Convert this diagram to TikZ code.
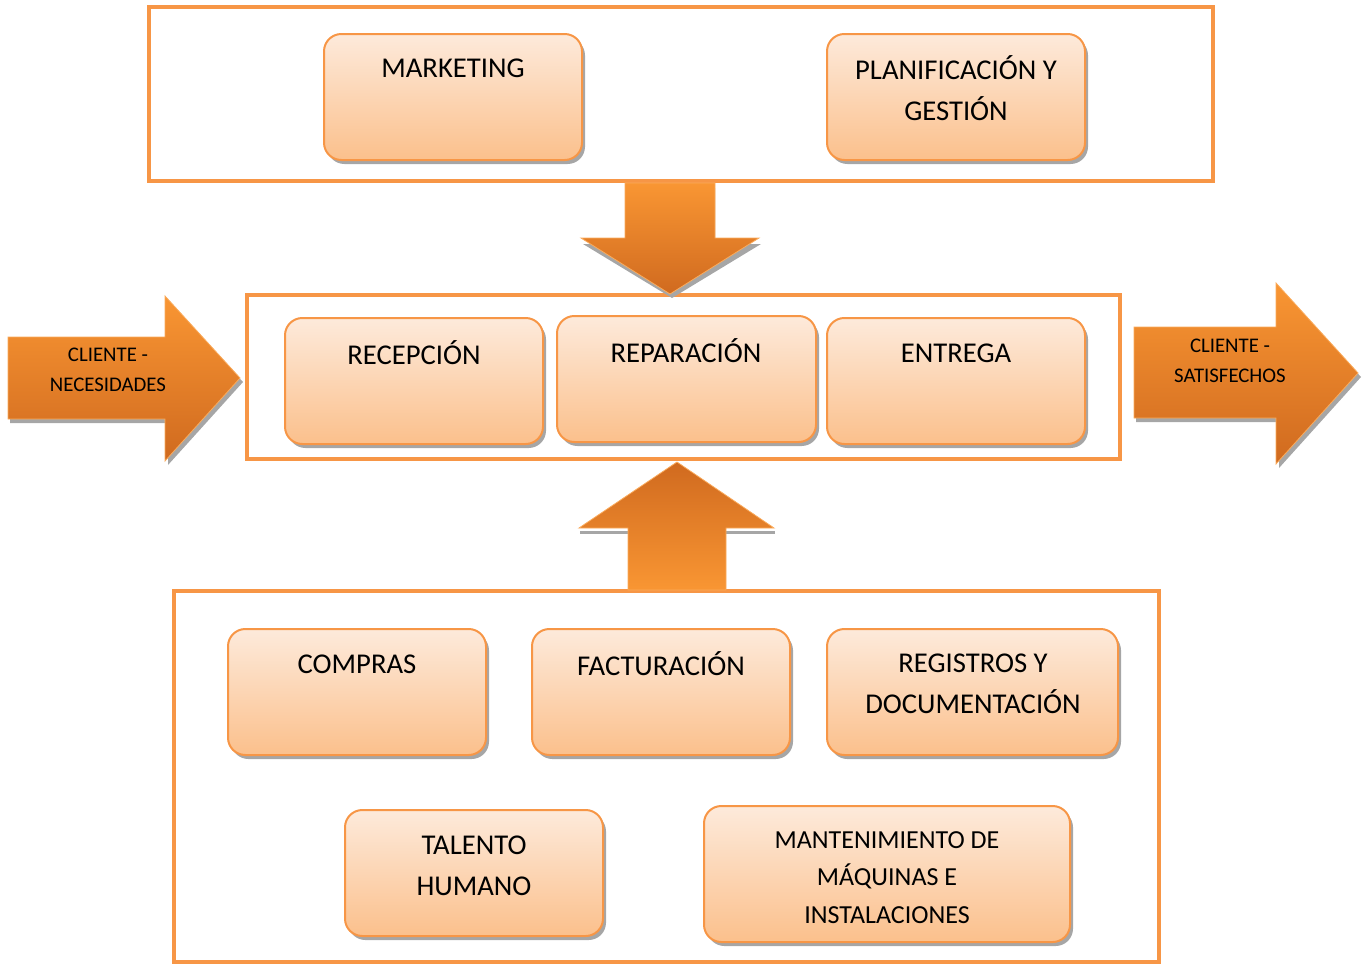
\documentclass[tikz,border=0pt]{standalone}
\usepackage{fontspec}
\setmainfont{Carlito}
\definecolor{obord}{HTML}{F79646}
\definecolor{btop}{HTML}{FDEADB}
\definecolor{bbot}{HTML}{FBC08C}
\definecolor{abright}{HTML}{F99633}
\definecolor{adark}{HTML}{D06A1F}
\definecolor{shgray}{HTML}{A6A6A6}
\tikzset{
  cont/.style={draw=obord, line width=3pt, inner sep=0pt, outer sep=0pt},
  box/.style={draw=obord, line width=1.5pt, rounded corners=13pt, top color=btop, bottom color=bbot, inner sep=0pt, outer sep=0pt},
  boxshadow/.style={fill=shgray, rounded corners=13pt},
  btxt/.style={font=\fontsize{21.5}{30.75}\selectfont, align=center, inner sep=0pt},
  atxt/.style={font=\fontsize{15.6}{22.5}\selectfont, align=center, inner sep=0pt},
  mtxt/.style={font=\fontsize{19.5}{28}\selectfont, align=center, inner sep=0pt},
  arrowfill/.style={top color=abright, bottom color=adark, draw=abright!80!white, line width=0.6pt},
  arrowfillup/.style={top color=adark, bottom color=abright, draw=abright!80!white, line width=0.6pt},
  ashadow/.style={fill=shgray},
}
\newcommand\rbox[5]{%
  \fill[boxshadow] (#2+3,#3+4) rectangle (#4+3,#5+4);
  \node[box, anchor=north west, minimum width={(#4-#2)*0.75pt}, minimum height={(#5-#3)*0.75pt}] (#1) at (#2,#3) {};
}
\begin{document}
\begin{tikzpicture}[x=0.75pt, y=-0.75pt]
\useasboundingbox (0,0) rectangle (1370,964);

% containers
\node[cont, anchor=north west, minimum width={1064*0.75pt}, minimum height={174*0.75pt}] (top) at (149,7) {};
\node[cont, anchor=north west, minimum width={873*0.75pt}, minimum height={164*0.75pt}] (mid) at (247,295) {};
\node[cont, anchor=north west, minimum width={985*0.75pt}, minimum height={371*0.75pt}] (bot) at (174,591) {};

% down arrow
\fill[ashadow] (625,188) -- (715,188) -- (715,244) -- (761,244) -- (672,298) -- (583,244) -- (625,244) -- cycle;
\path[arrowfill] (625,183) -- (715,183) -- (715,238) -- (759,238) -- (670,294) -- (581,238) -- (625,238) -- cycle;

% up arrow
\fill[ashadow] (580,531) -- (775,531) -- (775,534) -- (580,534) -- cycle;
\path[arrowfillup] (677,462) -- (774,528) -- (726,528) -- (726,590) -- (628,590) -- (628,528) -- (579,528) -- cycle;

% left arrow
\fill[ashadow] (10,341) -- (168,341) -- (168,300) -- (243,382) -- (168,465) -- (168,423) -- (10,423) -- cycle;
\path[arrowfill] (8,337) -- (165,337) -- (165,296) -- (240,378) -- (165,461) -- (165,419) -- (8,419) -- cycle;
\node[atxt] (cn) at (108,370) {CLIENTE -\\NECESIDADES};

% right arrow
\fill[ashadow] (1136,331) -- (1279,331) -- (1279,287) -- (1361,377) -- (1279,468) -- (1279,422) -- (1136,422) -- cycle;
\path[arrowfill] (1134,327) -- (1276,327) -- (1276,283) -- (1358,373) -- (1276,464) -- (1276,418) -- (1134,418) -- cycle;
\node[atxt] (cs) at (1230,361) {CLIENTE -\\SATISFECHOS};

% top boxes
\rbox{mk}{324}{34}{582}{160}
\node[btxt] (mkt) at (453,68) {MARKETING};
\rbox{pg}{827}{34}{1085}{160}
\node[btxt] (pgt) at (956,88.5) {PLANIFICACIÓN Y\\GESTIÓN};

% middle boxes
\rbox{rc}{285}{318}{543}{444}
\node[btxt] (rct) at (414,353) {RECEPCIÓN};
\rbox{rp}{557}{316}{816}{442}
\node[btxt] (rpt) at (686,351) {REPARACIÓN};
\rbox{en}{827}{318}{1085}{444}
\node[btxt] (ent) at (956,353) {ENTREGA};

% bottom boxes
\rbox{co}{228}{629}{486}{755}
\node[btxt] (cot) at (357,664) {COMPRAS};
\rbox{fa}{532}{629}{790}{755}
\node[btxt] (fat) at (661,664) {FACTURACIÓN};
\rbox{rg}{827}{629}{1118}{755}
\node[btxt] (rgt) at (973,684) {REGISTROS Y\\DOCUMENTACIÓN};
\rbox{th}{345}{810}{603}{936}
\node[btxt] (tht) at (474,865.5) {TALENTO\\HUMANO};
\rbox{mt}{704}{806}{1070}{942}
\node[mtxt] (mtt) at (887,877.5) {MANTENIMIENTO DE\\MÁQUINAS E\\INSTALACIONES};
\end{tikzpicture}
\end{document}
